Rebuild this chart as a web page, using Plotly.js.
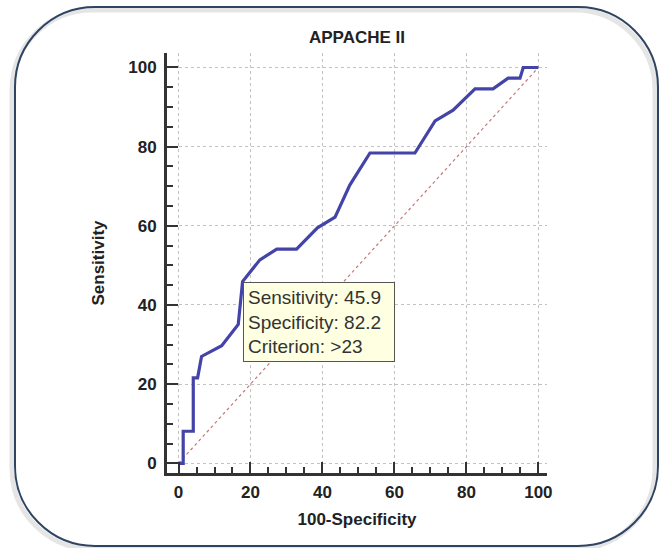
<!DOCTYPE html>
<html>
<head>
<meta charset="utf-8">
<script src="https://cdn.plot.ly/plotly-3.0.1.min.js"></script>
<style>
  html, body { margin: 0; padding: 0; background: #ffffff; }
  #chart { width: 660px; height: 548px; }
</style>
</head>
<body>
<div id="chart"></div>
<script>
// ROC curve data: 100-Specificity (x) vs Sensitivity (y)
var fpr  = [0, 1.3, 1.3, 4.1, 4.1, 5.3, 6.4, 12.0, 16.6, 17.8, 22.6, 27.3, 32.8, 38.6, 43.5, 47.6, 53.2, 65.7, 71.3, 76.3, 82.4, 87.4, 91.6, 94.9, 95.8, 100];
var sens = [0, 0, 8.1, 8.1, 21.6, 21.6, 27.0, 29.7, 35.1, 45.9, 51.4, 54.1, 54.1, 59.5, 62.2, 70.3, 78.4, 78.4, 86.5, 89.2, 94.6, 94.6, 97.3, 97.3, 100, 100];
var diagX = [0, 100];
var diagY = [0, 100];
var cutX = 17.8;
var cutY = 45.9;
var cutLabels = ["Sensitivity: 45.9", "Specificity: 82.2", "Criterion: &gt;23"];
var tickVals = [0, 20, 40, 60, 80, 100];
var tickText = ["0", "20", "40", "60", "80", "100"];

// layout geometry (pixels)
var L = 167, T = 53, W = 380, H = 420;
function px(x) { return (x - L) / W; }
function py(y) { return (T + H - y) / H; }
function rrPath(x0, y0, x1, y1, r) {
  var k = 0.5523 * r;
  function P(x, y) { return px(x).toFixed(5) + "," + py(y).toFixed(5); }
  return "M" + P(x0 + r, y0) +
    " L" + P(x1 - r, y0) +
    " C" + P(x1 - r + k, y0) + " " + P(x1, y0 + r - k) + " " + P(x1, y0 + r) +
    " L" + P(x1, y1 - r) +
    " C" + P(x1, y1 - r + k) + " " + P(x1 - r + k, y1) + " " + P(x1 - r, y1) +
    " L" + P(x0 + r, y1) +
    " C" + P(x0 + r - k, y1) + " " + P(x0, y1 - r + k) + " " + P(x0, y1 - r) +
    " L" + P(x0, y0 + r) +
    " C" + P(x0, y0 + r - k) + " " + P(x0 + r - k, y0) + " " + P(x0 + r, y0) + " Z";
}

var fontFam = "Liberation Sans Narrow, Arial Narrow, Liberation Sans, Arial, sans-serif";

var traces = [
  {
    x: diagX, y: diagY, type: "scatter", mode: "lines",
    line: { color: "#c47878", width: 1.2, dash: "dot" },
    hoverinfo: "skip", showlegend: false
  },
  {
    x: fpr, y: sens, type: "scatter", mode: "lines",
    line: { color: "#4444a8", width: 3.2 },
    hoverinfo: "skip", showlegend: false
  }
];

var axisCommon = {
  tickmode: "array",
  tickvals: tickVals,
  ticktext: tickText,
  ticks: "inside",
  ticklen: 11,
  tickwidth: 2,
  tickcolor: "#333333",
  showline: true,
  linecolor: "#333333",
  linewidth: 3,
  showgrid: true,
  gridcolor: "#c2c2c2",
  gridwidth: 1,
  griddash: "dot",
  zeroline: false,
  fixedrange: true,
  tickfont: { family: fontFam, size: 17, color: "#222222", weight: "bold" },
  minor: { dtick: 5, tick0: 0, ticks: "inside", ticklen: 6, tickwidth: 2, tickcolor: "#333333", showgrid: false }
};

var layout = {
  width: 660,
  height: 548,
  margin: { l: L, r: 660 - L - W, t: T, b: 548 - T - H, pad: 0 },
  paper_bgcolor: "#ffffff",
  plot_bgcolor: "#ffffff",
  showlegend: false,
  title: {
    text: "APPACHE II",
    font: { family: fontFam, size: 17, color: "#222222", weight: "bold" },
    x: 0.5, xref: "paper", xanchor: "center",
    y: 1 - 37 / 548, yref: "container", yanchor: "middle"
  },
  xaxis: Object.assign({}, axisCommon, {
    range: [-3.2, 102.4],
    ticklabelstandoff: 2,
    title: { text: "100-Specificity", font: { family: fontFam, size: 17, color: "#222222", weight: "bold" }, standoff: 12 }
  }),
  yaxis: Object.assign({}, axisCommon, {
    range: [-2.45, 103.66],
    ticklabelstandoff: 4,
    title: { text: "Sensitivity", font: { family: fontFam, size: 17, color: "#222222", weight: "bold" }, standoff: 20 }
  }),
  annotations: [
    {
      x: cutX, y: cutY, xref: "x", yref: "y",
      xanchor: "left", yanchor: "top",
      text: cutLabels.join("<br>"),
      align: "left",
      width: 142,
      showarrow: false,
      bgcolor: "#ffffe1",
      bordercolor: "#555555",
      borderwidth: 1,
      borderpad: 4,
      font: { family: "Liberation Sans, Arial, sans-serif", size: 19, color: "#333333" }
    }
  ],
  shapes: [
    {
      type: "path", xref: "paper", yref: "paper", layer: "below",
      path: rrPath(12, 10, 655, 549, 80),
      line: { color: "rgba(0,0,0,0.10)", width: 5 },
      fillcolor: "rgba(0,0,0,0)"
    },
    {
      type: "path", xref: "paper", yref: "paper", layer: "above",
      path: rrPath(15, 7, 658, 546, 80),
      line: { color: "#2e4462", width: 2 },
      fillcolor: "rgba(0,0,0,0)"
    }
  ]
};

Plotly.newPlot("chart", traces, layout, { displayModeBar: false, staticPlot: true });
</script>
</body>
</html>
